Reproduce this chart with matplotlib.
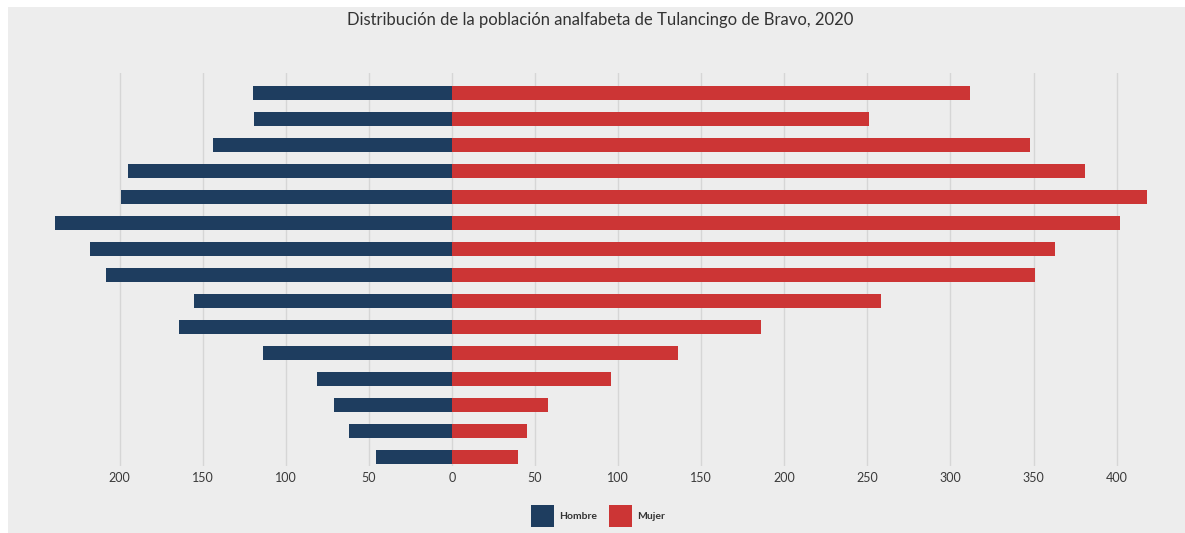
import numpy as np
import matplotlib.pyplot as plt
from matplotlib.patches import Patch, Rectangle

plt.rcParams["font.family"] = ["Lato", "DejaVu Sans"]

TITLE = "Distribución de la población analfabeta de Tulancingo de Bravo, 2020"

# filas de arriba hacia abajo
hombre = [120, 119, 144, 195, 199, 239, 218, 208, 155, 164, 114, 81, 71, 62, 46]
mujer = [312, 251, 348, 381, 418, 402, 363, 351, 258, 186, 136, 96, 58, 45, 40]

TICKS = [-200, -150, -100, -50, 0, 50, 100, 150, 200, 250, 300, 350, 400]

NAVY = "#1e3d5f"
RED = "#cc3535"
BG = "#ededed"


def plot():
    fig = plt.figure(figsize=(11.85, 5.33), dpi=100)
    fig.patch.set_facecolor("white")
    fig.add_artist(Rectangle((8 / 1185, 0), 1, (533 - 7) / 533,
                             transform=fig.transFigure, facecolor=BG,
                             edgecolor="none", zorder=-10))

    ax = fig.add_axes([0.0308, 0.1257, 0.9536, 0.7374])
    ax.set_facecolor(BG)
    n = len(hombre)
    y = np.arange(n)[::-1]
    ax.barh(y, [-v for v in hombre], height=0.55, color=NAVY, zorder=3)
    ax.barh(y, mujer, height=0.55, color=RED, zorder=3)

    ax.set_xlim(-250, 430)
    ax.set_ylim(-0.35, n - 1 + 0.77)
    ax.set_xticks(TICKS)
    ax.set_xticklabels([str(abs(t)) for t in TICKS], fontsize=9, color="#3a3a3a")
    ax.set_yticks([])
    ax.tick_params(axis="x", length=0, pad=4)
    ax.grid(axis="x", color="#d6d6d6", linewidth=1, zorder=0)
    for s in ax.spines.values():
        s.set_visible(False)

    fig.text(600 / 1185, 1 - 20 / 533, TITLE, ha="center", va="center",
             fontsize=12, color="#333333")

    handles = [Patch(facecolor=NAVY, label="Hombre"),
               Patch(facecolor=RED, label="Mujer")]
    fig.legend(handles=handles, loc="center", bbox_to_anchor=(598 / 1185, 17 / 533),
               ncol=2, frameon=False, fontsize=7.5, handlelength=2.2,
               handleheight=2.9, handletextpad=0.5, columnspacing=1.2,
               labelcolor="#333333", prop={"weight": "bold", "size": 7.5})

    fig.savefig("out.png", dpi=100, facecolor=fig.get_facecolor())


if __name__ == "__main__":
    plot()
